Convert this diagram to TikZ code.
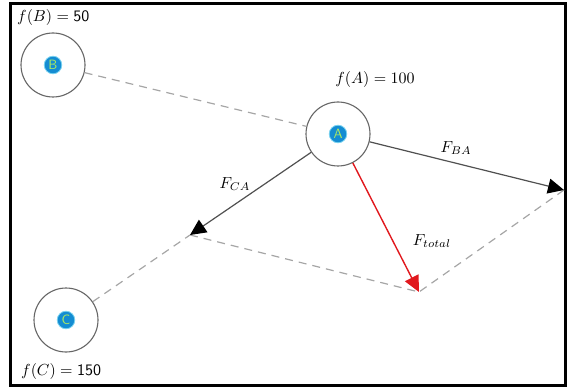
\documentclass[tikz,border=0pt]{standalone}
\usepackage{tikz}
\usetikzlibrary{arrows.meta}
\definecolor{dotblue}{RGB}{20,140,210}
\definecolor{dotring}{RGB}{120,210,240}
\definecolor{dotletter}{RGB}{175,235,95}
\definecolor{vecgray}{RGB}{80,80,80}
\definecolor{forcered}{RGB}{225,25,30}
\tikzset{every picture/.style={line width=0.75pt}}

\begin{document}
\begin{tikzpicture}[x=1pt, y=-1pt, >={Triangle[length=16pt, width=15pt]},
    lbl/.style={scale=1.6, inner sep=1pt},
    agent/.style={circle, draw=gray!80!black, line width=1.1pt, minimum size=64pt, inner sep=0pt},
    tag/.style={circle, fill=dotblue, draw=dotring, line width=0.8pt, minimum size=13pt, inner sep=0pt,
        text=dotletter, font=\sffamily, scale=1.35},
    force/.style={draw=vecgray, line width=1.2pt, -{Triangle[length=16pt, width=15pt, color=black]}},
    guide/.style={draw=gray!70, line width=1.2pt, dash pattern=on 8pt off 6pt}]
        \useasboundingbox (0,0) rectangle (567,387);
        \draw[line width=3pt] (10,4) rectangle (565,385);
        % agents
        \node[agent] (B) at (53,65)  {};
        \node[agent] (A) at (338,134) {};
        \node[agent] (C) at (66,320) {};
        \node[tag] (Btag) at (B.center) {B};
        \node[tag] (Atag) at (A.center) {A};
        \node[tag] (Ctag) at (C.center) {C};
        \node[lbl, anchor=west] (fB) at (15,18)  {$f(B)=\textsf{50}$};
        \node[lbl] (fA) at (375,80) {$f(A)=100$};
        \node[lbl, anchor=west] (fC) at (19,371) {$f(C)=\textsf{150}$};
        % vector tips
        \coordinate (ba)  at (564,190);
        \coordinate (ca)  at (190,235);
        \coordinate (tot) at (419,292);
        \draw[guide] (B) -- (A);
        \draw[guide] (C) -- (ca);
        \draw[guide] (ca) -- (tot);
        \draw[guide] (ba) -- (tot);
        \draw[force] (A) -- (ba);
        \draw[force] (A) -- (ca);
        \draw[->, draw=forcered, fill=forcered, line width=1.4pt] (A) -- (tot);
        \node[lbl] (Fba)  at (456,148) {$F_{BA}$};
        \node[lbl] (Fca)  at (235,184) {$F_{CA}$};
        \node[lbl] (Ftot) at (432,241) {$F_{total}$};
\end{tikzpicture}
\end{document}
